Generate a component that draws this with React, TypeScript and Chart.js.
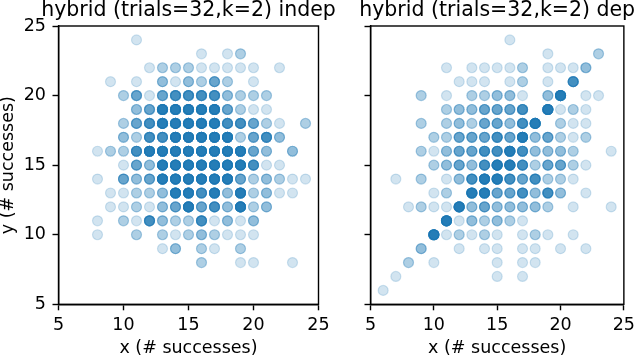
import React, { useEffect, useRef } from 'react';
import { Chart, registerables } from 'chart.js';

Chart.register(...registerables);

// ---------- data ----------
const xTicks = [5, 10, 15, 20, 25];
const yTicks = [5, 10, 15, 20, 25];
const panelTitles = ['hybrid (trials=32,k=2) indep', 'hybrid (trials=32,k=2) dep'];
const xLabel = 'x (# successes)';
const yLabel = 'y (# successes)';

// indep panel: x, y and number of overlapping samples at that cell
const indepX = [
  11,
  16, 18, 19,
  12, 13, 14, 15, 16, 17, 18, 19, 20, 22,
  9, 11, 13, 14, 15, 16, 17, 18, 20,
  10, 11, 12, 13, 14, 15, 16, 17, 18, 19, 20, 21,
  11, 12, 13, 14, 15, 16, 17, 18, 19, 20, 21,
  10, 11, 12, 13, 14, 15, 16, 17, 18, 19, 20, 21, 22, 24,
  10, 11, 12, 13, 14, 15, 16, 17, 18, 19, 20, 21, 22,
  8, 9, 10, 11, 12, 13, 14, 15, 16, 17, 18, 19, 20, 21, 23,
  10, 11, 12, 13, 14, 15, 16, 17, 18, 19, 20, 21, 22,
  8, 10, 11, 12, 13, 14, 15, 16, 17, 18, 19, 20, 21, 22, 23, 24,
  9, 10, 11, 12, 13, 14, 15, 16, 17, 18, 19, 20, 21, 22, 23,
  9, 10, 11, 12, 13, 14, 15, 16, 17, 18, 19, 20, 21,
  8, 10, 11, 12, 13, 14, 15, 16, 17, 18, 19, 20,
  8, 11, 13, 14, 15, 16, 17, 18, 19, 20,
  13, 14, 16, 17, 19,
  16, 19, 20, 23,
];
const indepY = [
  24,
  23, 23, 23,
  22, 22, 22, 22, 22, 22, 22, 22, 22, 22,
  21, 21, 21, 21, 21, 21, 21, 21, 21,
  20, 20, 20, 20, 20, 20, 20, 20, 20, 20, 20, 20,
  19, 19, 19, 19, 19, 19, 19, 19, 19, 19, 19,
  18, 18, 18, 18, 18, 18, 18, 18, 18, 18, 18, 18, 18, 18,
  17, 17, 17, 17, 17, 17, 17, 17, 17, 17, 17, 17, 17,
  16, 16, 16, 16, 16, 16, 16, 16, 16, 16, 16, 16, 16, 16, 16,
  15, 15, 15, 15, 15, 15, 15, 15, 15, 15, 15, 15, 15,
  14, 14, 14, 14, 14, 14, 14, 14, 14, 14, 14, 14, 14, 14, 14, 14,
  13, 13, 13, 13, 13, 13, 13, 13, 13, 13, 13, 13, 13, 13, 13,
  12, 12, 12, 12, 12, 12, 12, 12, 12, 12, 12, 12, 12,
  11, 11, 11, 11, 11, 11, 11, 11, 11, 11, 11, 11,
  10, 10, 10, 10, 10, 10, 10, 10, 10, 10,
  9, 9, 9, 9, 9,
  8, 8, 8, 8,
];
const indepN = [
  1,
  1, 1, 2,
  1, 2, 2, 2, 1, 1, 1, 1, 1, 1,
  1, 1, 3, 1, 3, 2, 5, 2, 1,
  2, 5, 1, 5, 8, 8, 8, 8, 3, 2, 2, 2,
  3, 5, 15, 15, 15, 15, 15, 5, 2, 1, 1,
  2, 5, 8, 15, 15, 15, 15, 15, 8, 8, 5, 2, 1, 2,
  3, 2, 8, 8, 15, 15, 15, 15, 15, 2, 5, 8, 3,
  1, 2, 2, 8, 15, 15, 15, 15, 15, 15, 15, 15, 5, 3, 3,
  1, 5, 3, 15, 15, 15, 15, 15, 15, 15, 8, 1, 1,
  1, 5, 3, 5, 15, 15, 15, 15, 15, 15, 5, 2, 3, 2, 1, 1,
  1, 1, 2, 2, 3, 15, 15, 8, 15, 3, 15, 2, 3, 1, 1,
  1, 1, 2, 1, 3, 5, 15, 5, 8, 3, 15, 2, 3,
  1, 2, 1, 8, 3, 2, 2, 8, 1, 3, 1, 3,
  1, 2, 2, 1, 2, 3, 2, 1, 1, 1,
  1, 3, 2, 1, 2,
  2, 1, 1, 1,
];

// dep panel
const depX = [
  16,
  19, 23,
  11, 13, 14, 15, 16, 17, 19, 20, 21, 22,
  12, 13, 14, 16, 17, 19, 21,
  9, 11, 13, 14, 15, 16, 17, 19, 20, 22, 23,
  11, 12, 13, 14, 15, 16, 17, 19, 20, 21, 22,
  9, 11, 12, 13, 14, 15, 16, 17, 18, 20, 21, 22,
  10, 11, 12, 13, 14, 15, 16, 17, 18, 19, 20, 21, 22,
  9, 10, 11, 12, 13, 14, 15, 16, 17, 18, 19, 20, 21, 24,
  10, 11, 12, 13, 14, 15, 16, 17, 18, 19, 20, 21, 22,
  7, 9, 11, 12, 13, 14, 15, 16, 17, 18, 19, 20, 21,
  10, 11, 13, 14, 15, 16, 17, 18, 19, 20, 22,
  8, 9, 10, 11, 12, 13, 14, 15, 16, 17, 18, 19, 21, 24,
  11, 12, 13, 14, 15, 16, 17,
  10, 11, 12, 13, 14, 15, 17, 18, 19, 21,
  9, 12, 14, 15, 17, 18, 20, 22,
  8, 10, 15, 17, 18,
  7, 15, 17,
  6,
];
const depY = [
  24,
  23, 23,
  22, 22, 22, 22, 22, 22, 22, 22, 22, 22,
  21, 21, 21, 21, 21, 21, 21,
  20, 20, 20, 20, 20, 20, 20, 20, 20, 20, 20,
  19, 19, 19, 19, 19, 19, 19, 19, 19, 19, 19,
  18, 18, 18, 18, 18, 18, 18, 18, 18, 18, 18, 18,
  17, 17, 17, 17, 17, 17, 17, 17, 17, 17, 17, 17, 17,
  16, 16, 16, 16, 16, 16, 16, 16, 16, 16, 16, 16, 16, 16,
  15, 15, 15, 15, 15, 15, 15, 15, 15, 15, 15, 15, 15,
  14, 14, 14, 14, 14, 14, 14, 14, 14, 14, 14, 14, 14,
  13, 13, 13, 13, 13, 13, 13, 13, 13, 13, 13,
  12, 12, 12, 12, 12, 12, 12, 12, 12, 12, 12, 12, 12, 12,
  11, 11, 11, 11, 11, 11, 11,
  10, 10, 10, 10, 10, 10, 10, 10, 10, 10,
  9, 9, 9, 9, 9, 9, 9, 9,
  8, 8, 8, 8, 8,
  7, 7, 7,
  6,
];
const depN = [
  1,
  1, 2,
  1, 1, 1, 1, 1, 2, 1, 1, 1, 3,
  1, 1, 1, 1, 2, 1, 8,
  2, 1, 2, 2, 3, 3, 1, 3, 15, 1, 1,
  2, 3, 3, 5, 5, 5, 8, 15, 1, 2, 1,
  2, 2, 3, 2, 5, 5, 3, 8, 15, 2, 1, 1,
  2, 2, 5, 5, 5, 8, 5, 15, 3, 5, 2, 1, 2,
  2, 1, 3, 5, 5, 8, 8, 15, 8, 3, 3, 3, 2, 1,
  2, 3, 5, 3, 8, 15, 15, 8, 2, 5, 5, 2, 1,
  1, 2, 1, 3, 8, 15, 15, 8, 5, 8, 2, 2, 1,
  1, 2, 15, 15, 5, 5, 8, 3, 8, 3, 1,
  1, 2, 1, 1, 15, 3, 5, 3, 3, 3, 3, 2, 1, 1,
  15, 1, 3, 2, 3, 2, 1,
  15, 1, 2, 1, 2, 1, 1, 2, 1, 1,
  3, 1, 1, 1, 1, 1, 1, 1,
  2, 1, 1, 1, 1,
  1, 1, 1,
  1,
];

// ---------- helpers ----------
const FONT = 'DejaVu Sans';
const W = 640;
const H = 357;
const AREA_TOP = 26;
const AREA_BOTTOM = 304.3;
const LW = 1.4;

function expand(xs: number[], ys: number[], ns: number[]) {
  const pts: { x: number; y: number }[] = [];
  xs.forEach((x, i) => {
    for (let k = 0; k < ns[i]; k++) pts.push({ x, y: ys[i] });
  });
  return pts;
}

const framePlugin = {
  id: 'frameAndTitle',
  afterDraw(chart: any, _args: any, opts: any) {
    const { ctx, chartArea } = chart;
    ctx.save();
    ctx.strokeStyle = '#000';
    ctx.lineWidth = LW;
    ctx.strokeRect(chartArea.left, chartArea.top, chartArea.right - chartArea.left, chartArea.bottom - chartArea.top);
    ctx.fillStyle = '#000';
    ctx.font = `20.5px "${FONT}"`;
    ctx.textAlign = 'center';
    ctx.textBaseline = 'alphabetic';
    ctx.fillText(opts.text, (chartArea.left + chartArea.right) / 2, 15.5);
    ctx.restore();
  },
};

function makeConfig(points: any[], title: string, showYLabels: boolean, areaLeft: number, areaRight: number): any {
  return {
    type: 'scatter',
    data: {
      datasets: [
        {
          data: points,
          pointRadius: 5,
          pointHoverRadius: 5,
          pointBackgroundColor: 'rgba(31,119,180,0.2)',
          pointBorderColor: 'rgba(31,119,180,0.2)',
          pointBorderWidth: 1.2,
        },
      ],
    },
    options: {
      responsive: false,
      animation: false,
      devicePixelRatio: 1,
      events: [],
      layout: { padding: { left: 0, right: W - areaRight, top: AREA_TOP, bottom: 0 } },
      plugins: {
        legend: { display: false },
        tooltip: { enabled: false },
        title: { display: false },
        frameAndTitle: { text: title },
      },
      scales: {
        x: {
          type: 'linear',
          min: 5,
          max: 25,
          afterBuildTicks: (s: any) => {
            s.ticks = xTicks.map((v) => ({ value: v }));
          },
          afterFit: (s: any) => {
            s.height = H - AREA_BOTTOM;
          },
          ticks: {
            color: '#000',
            font: { family: FONT, size: 17.5 },
            padding: 5,
            maxRotation: 0,
            autoSkip: false,
          },
          grid: { drawOnChartArea: false, drawTicks: true, tickLength: 6, tickColor: '#000', tickWidth: LW },
          border: { display: true, color: '#000', width: LW },
          title: {
            display: true,
            text: xLabel,
            color: '#000',
            font: { family: FONT, size: 17.5, lineHeight: 1 },
            padding: { top: 0, bottom: 0 },
          },
        },
        y: {
          type: 'linear',
          min: 5,
          max: 25,
          afterBuildTicks: (s: any) => {
            s.ticks = yTicks.map((v) => ({ value: v }));
          },
          afterFit: (s: any) => {
            s.width = areaLeft;
          },
          ticks: {
            color: '#000',
            font: { family: FONT, size: 17.5 },
            padding: 6.5,
            autoSkip: false,
            callback: (v: any) => (showYLabels ? String(v) : ''),
          },
          grid: { drawOnChartArea: false, drawTicks: true, tickLength: 6, tickColor: '#000', tickWidth: LW },
          border: { display: true, color: '#000', width: LW },
          title: {
            display: showYLabels,
            text: yLabel,
            color: '#000',
            font: { family: FONT, size: 17.5, lineHeight: 1 },
            padding: { top: 0, bottom: 0 },
          },
        },
      },
    },
    plugins: [framePlugin],
  };
}

export default function App() {
  const leftRef = useRef<HTMLCanvasElement>(null);
  const rightRef = useRef<HTMLCanvasElement>(null);

  useEffect(() => {
    document.body.style.margin = '0';
    const c1 = new Chart(
      leftRef.current as HTMLCanvasElement,
      makeConfig(expand(indepX, indepY, indepN), panelTitles[0], true, 58.5, 318.5)
    );
    const c2 = new Chart(
      rightRef.current as HTMLCanvasElement,
      makeConfig(expand(depX, depY, depN), panelTitles[1], false, 370.5, 631.5)
    );
    return () => {
      c1.destroy();
      c2.destroy();
    };
  }, []);

  const cs: React.CSSProperties = { position: 'absolute', left: 0, top: 0, width: W, height: H };
  return (
    <div style={{ position: 'fixed', left: 0, top: 0, width: W, height: H, background: '#fff' }}>
      <canvas ref={leftRef} width={W} height={H} style={cs} />
      <canvas ref={rightRef} width={W} height={H} style={cs} />
    </div>
  );
}
